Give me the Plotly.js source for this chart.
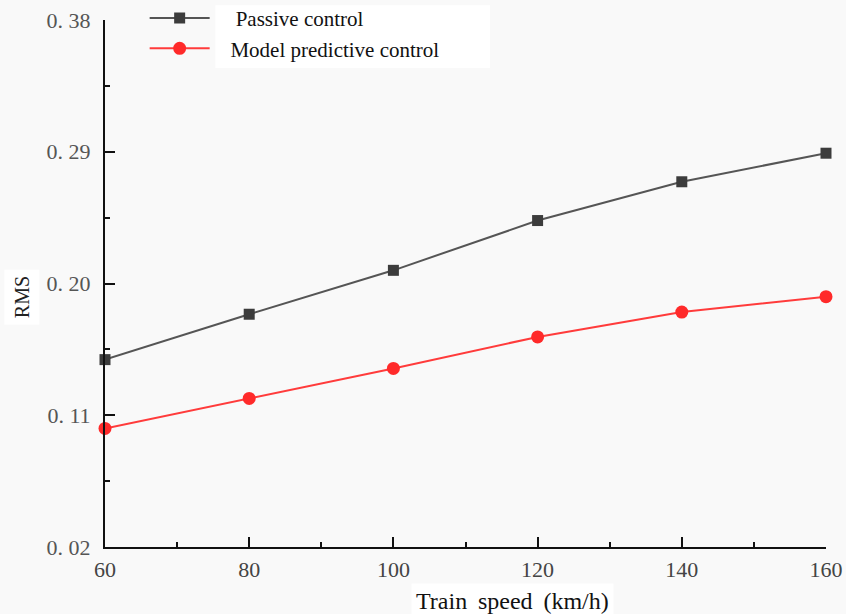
<!DOCTYPE html>
<html>
<head>
<meta charset="utf-8">
<script src="https://cdn.plot.ly/plotly-3.0.1.min.js"></script>
<style>html,body{margin:0;padding:0;background:#f9f9f9;}#chart{width:846px;height:614px;}</style>
</head>
<body>
<div id="chart"></div>
<script>
const speeds = [60, 80, 100, 120, 140, 160];
const passive = [0.148, 0.179, 0.209, 0.243, 0.2695, 0.289];
const mpc = [0.101, 0.1215, 0.142, 0.1635, 0.1805, 0.191];
const yTickVals = [0.02, 0.11, 0.20, 0.29, 0.38];
const yTickText = ['0. 02', '0. 11', '0. 20', '0. 29', '0. 38'];
const xTickVals = [60, 80, 100, 120, 140, 160];

const serif = "'Liberation Serif', 'Times New Roman', serif";

const traces = [
  {
    x: speeds, y: passive, name: '\u00a0\u00a0\u00a0\u00a0Passive control', type: 'scatter', mode: 'lines+markers',
    line: {color: '#555555', width: 2},
    marker: {symbol: 'square', size: 11, color: '#3c3c3c'},
    cliponaxis: false
  },
  {
    x: speeds, y: mpc, name: '\u00a0\u00a0\u00a0Model predictive control', type: 'scatter', mode: 'lines+markers',
    line: {color: '#ff3b3b', width: 2},
    marker: {symbol: 'circle', size: 13, color: '#ff2a2a'},
    cliponaxis: false
  }
];

const layout = {
  width: 846, height: 614,
  margin: {l: 105, r: 20, t: 20, b: 67, autoexpand: false},
  paper_bgcolor: '#f9f9f9',
  plot_bgcolor: '#f9f9f9',
  font: {family: serif, color: '#222'},
  showlegend: true,
  legend: {
    x: 0.055, y: 1.042, xanchor: 'left', yanchor: 'top',
    bgcolor: 'rgba(0,0,0,0)', borderwidth: 0,
    font: {family: serif, size: 21, color: '#111'},
    itemwidth: 60, tracegroupgap: 0
  },
  shapes: [
    {type: 'rect', xref: 'paper', yref: 'paper', x0: 0.153, x1: 0.534, y0: 0.909, y1: 1.028,
     fillcolor: '#ffffff', line: {width: 0}, layer: 'below'}
  ],
  xaxis: {
    range: [60, 160],
    tickvals: xTickVals,
    ticks: 'inside', ticklen: 10, tickwidth: 2, tickcolor: '#111',
    minor: {dtick: 10, ticks: 'inside', ticklen: 5, tickwidth: 2, tickcolor: '#111'},
    showline: true, linecolor: '#111', linewidth: 2,
    showgrid: false, zeroline: false,
    tickfont: {family: serif, size: 22, color: '#444'},
    ticklabelstandoff: 2
  },
  yaxis: {
    range: [0.02, 0.38],
    tickvals: yTickVals, ticktext: yTickText,
    ticks: 'inside', ticklen: 10, tickwidth: 2, tickcolor: '#111',
    minor: {tickvals: [0.065, 0.155, 0.245, 0.335], ticks: 'inside', ticklen: 5, tickwidth: 2, tickcolor: '#111'},
    showline: true, linecolor: '#111', linewidth: 2,
    showgrid: false, zeroline: false,
    tickfont: {family: serif, size: 22, color: '#555'},
    ticklabelstandoff: 8
  },
  annotations: [
    {text: 'Train\u2009 speed\u2009 (km/h)', xref: 'paper', yref: 'paper', x: 0.565, y: 0, yshift: -54,
     xanchor: 'center', yanchor: 'middle', showarrow: false, bgcolor: '#ffffff', borderpad: 4,
     font: {family: serif, size: 24, color: '#111'}},
    {text: 'RMS', xref: 'paper', yref: 'paper', x: 0, xshift: -83, y: 0.474,
     xanchor: 'center', yanchor: 'middle', textangle: -90, showarrow: false, bgcolor: '#ffffff', borderpad: 6,
     font: {family: serif, size: 20, color: '#222'}}
  ]
};

Plotly.newPlot('chart', traces, layout, {displayModeBar: false, staticPlot: true});
</script>
</body>
</html>
